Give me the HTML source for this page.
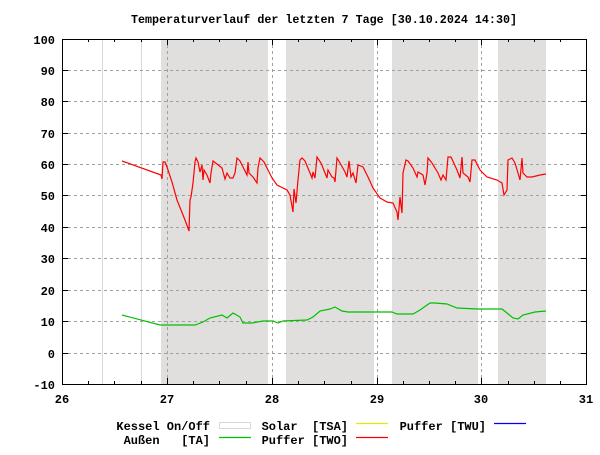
<!DOCTYPE html>
<html><head><meta charset="utf-8"><style>
body{margin:0;background:#fff}
text{font-family:"Liberation Mono",monospace;font-weight:bold;font-size:12px;fill:#000;white-space:pre}
</style></head><body>
<svg width="600" height="450" viewBox="0 0 600 450" xmlns="http://www.w3.org/2000/svg" xml:space="preserve">
<rect width="600" height="450" fill="#fff"/>
<g fill="#e0dfde">
<rect x="161" y="39" width="107" height="345"/>
<rect x="286" y="39" width="88" height="345"/>
<rect x="392" y="39" width="86" height="345"/>
<rect x="498" y="39" width="48" height="345"/>
</g>
<g stroke="#d8d8d8" stroke-width="1">
<line x1="102.5" y1="39" x2="102.5" y2="384"/>
<line x1="141.5" y1="39" x2="141.5" y2="384"/>
</g>
<g stroke="#a0a0a0" stroke-width="1" stroke-dasharray="3,3">
<line x1="62" y1="70.5" x2="587" y2="70.5"/>
<line x1="62" y1="101.5" x2="587" y2="101.5"/>
<line x1="62" y1="133.5" x2="587" y2="133.5"/>
<line x1="62" y1="164.5" x2="587" y2="164.5"/>
<line x1="62" y1="195.5" x2="587" y2="195.5"/>
<line x1="62" y1="227.5" x2="587" y2="227.5"/>
<line x1="62" y1="258.5" x2="587" y2="258.5"/>
<line x1="62" y1="290.5" x2="587" y2="290.5"/>
<line x1="62" y1="321.5" x2="587" y2="321.5"/>
<line x1="62" y1="353.5" x2="587" y2="353.5"/>
<line x1="167.5" y1="39" x2="167.5" y2="384"/>
<line x1="272.5" y1="39" x2="272.5" y2="384"/>
<line x1="377.5" y1="39" x2="377.5" y2="384"/>
<line x1="481.5" y1="39" x2="481.5" y2="384"/>
</g>
<polyline fill="none" stroke="#f00" stroke-width="1.2" points="122,161 161,175 162,179 163,162 165,162 167,167 172,182 177,200 185,220 189,231 190,200 191,197 193,183 195,162 196,158 198,162 200,172 202,165 203,180 204,170 207,175 210,183 211,173 213,161 217,164 222,168 225,179 227,173 230,178 233,178 235,173 237,158 240,161 247,175 248,162 249,173 253,177 257,183 258,168 260,158 264,162 268,170 272,178 277,185 287,190 290,195 293,212 294,189 296,203 298,180 300,160 302,158 305,161 310,173 312,178 313,172 315,178 317,157 321,163 325,173 327,178 328,170 332,177 334,178 335,182 337,158 340,163 345,172 347,177 349,161 351,177 353,173 356,183 358,165 363,167 368,177 373,188 380,198 387,202 393,203 397,212 398,220 400,197 402,213 403,173 406,160 408,161 413,168 417,177 418,172 423,175 425,185 427,173 428,158 432,163 438,173 441,180 443,175 446,180 448,157 451,157 457,170 460,178 462,157 463,173 468,177 470,182 472,160 475,160 480,170 487,177 497,180 502,183 504,195 507,190 508,160 512,158 515,163 518,173 520,180 522,158 523,173 527,177 532,177 540,175 546,174"/>
<polyline fill="none" stroke="#00c000" stroke-width="1.2" points="122,315 160,325 195,325 203,322 210,318 222,315 227,318 233,313 240,317 243,323 252,323 263,321 273,321 278,323 283,321 307,320 313,317 320,311 330,309 335,307 342,311 348,312 380,312 392,312 397,314 413,314 420,310 430,303 435,303 447,304 457,308 477,309 502,309 507,313 513,318 518,319 523,315 535,312 546,311"/>
<rect x="62.5" y="39.5" width="524" height="345" fill="none" stroke="#000" stroke-width="1"/>
<g stroke="#000" stroke-width="1">
<path d="M62 39.5h6M62 70.5h6M62 101.5h6M62 133.5h6M62 164.5h6M62 195.5h6M62 227.5h6M62 258.5h6M62 290.5h6M62 321.5h6M62 353.5h6"/>
<path d="M587 39.5h-6M587 70.5h-6M587 101.5h-6M587 133.5h-6M587 164.5h-6M587 195.5h-6M587 227.5h-6M587 258.5h-6M587 290.5h-6M587 321.5h-6M587 353.5h-6"/>
<path d="M167.5 384v-6M272.5 384v-6M377.5 384v-6M481.5 384v-6M167.5 39v6M272.5 39v6M377.5 39v6M481.5 39v6"/>
<path d="M88.5 384v-3M114.5 384v-3M141.5 384v-3M193.5 384v-3M219.5 384v-3M246.5 384v-3M298.5 384v-3M324.5 384v-3M351.5 384v-3M403.5 384v-3M429.5 384v-3M455.5 384v-3M508.5 384v-3M534.5 384v-3M560.5 384v-3"/>
<path d="M88.5 39v3M114.5 39v3M141.5 39v3M193.5 39v3M219.5 39v3M246.5 39v3M298.5 39v3M324.5 39v3M351.5 39v3M403.5 39v3M429.5 39v3M455.5 39v3M508.5 39v3M534.5 39v3M560.5 39v3"/>
</g>
<text x="131" y="23" textLength="386" lengthAdjust="spacingAndGlyphs" style="font-size:11.5px">Temperaturverlauf der letzten 7 Tage [30.10.2024 14:30]</text>
<g text-anchor="end">
<text x="55" y="44">100</text><text x="55" y="75">90</text><text x="55" y="106">80</text>
<text x="55" y="138">70</text><text x="55" y="169">60</text><text x="55" y="200">50</text>
<text x="55" y="232">40</text><text x="55" y="263">30</text><text x="55" y="295">20</text>
<text x="55" y="326">10</text><text x="55" y="358">0</text><text x="55" y="389">-10</text>
</g>
<g text-anchor="middle">
<text x="62" y="403">26</text><text x="167" y="403">27</text><text x="272" y="403">28</text>
<text x="377" y="403">29</text><text x="481" y="403">30</text><text x="586" y="403">31</text>
</g>
<text x="210" y="430" text-anchor="end">Kessel On/Off</text>
<rect x="219.5" y="422.5" width="31" height="6" fill="#fff" stroke="#d8d8d8"/>
<text x="210" y="444" text-anchor="end">Außen   [TA]</text>
<line x1="219" y1="437.5" x2="251" y2="437.5" stroke="#00c000" stroke-width="1.2"/>
<text x="348" y="430" text-anchor="end">Solar  [TSA]</text>
<line x1="356" y1="423.5" x2="388" y2="423.5" stroke="#e8e800" stroke-width="1.2"/>
<text x="348" y="444" text-anchor="end">Puffer [TWO]</text>
<line x1="356" y1="437.5" x2="388" y2="437.5" stroke="#f00" stroke-width="1.2"/>
<text x="486" y="430" text-anchor="end">Puffer [TWU]</text>
<line x1="494" y1="423.5" x2="526" y2="423.5" stroke="#00f" stroke-width="1.2"/>
</svg>
</body></html>
